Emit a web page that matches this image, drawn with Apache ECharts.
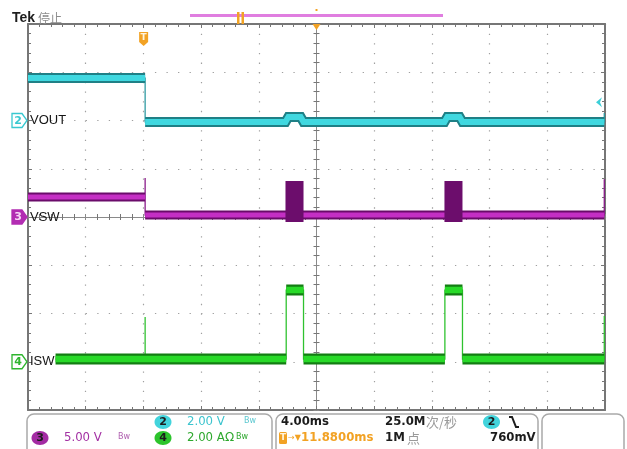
<!DOCTYPE html>
<html><head><meta charset="utf-8">
<script src="https://cdn.jsdelivr.net/npm/echarts@6/dist/echarts.min.js"></script>
<style>html,body{margin:0;padding:0;background:#fff}#c{width:627px;height:449px}</style>
</head><body><div id="c"></div>
<script>
// ---- time base (ms), 4 ms/div, 10 divisions ----
const timeRange = [-20, 20];
const timePerDiv = 4;
// ---- channel vertical ranges (8 divisions each, ref level at value 0) ----
const voutRange = [-12, 4];   // 2.00 V/div, ref 2 div below top
const vswRange = [-20, 20];   // 5.00 V/div, ref at centre
const iswRange = [-2, 14];    // 2.00 A/div, ref 1 div above bottom
// ---- VOUT (V) ----
const voutT = [-20, -11.88, -11.88, -2.15, -1.95, -1.1, -0.9, 8.87, 9.07, 9.92, 10.12, 19.95, 19.95];
const voutV = [1.76, 1.76, -0.06, -0.06, 0.15, 0.15, -0.06, -0.06, 0.15, 0.15, -0.06, -0.06, 0.31];
// ---- VSW (V) ----
const vswT = [-20, -11.88, -11.88, -11.88, 19.95, 19.95];
const vswV = [2.07, 2.07, 4.04, 0.2, 0.2, 3.9];
const vswPulseStart = [-2.15, 8.87];
const vswPulseEnd = [-0.9, 10.12];
const vswPulseHigh = 3.73;
const vswPulseLow = -0.52;
// ---- ISW (A) ----
const iswT = [-18.09, -11.88, -11.88, -11.88, -2.1, -2.1, -0.9, -0.9, 8.9, 8.9, 10.12, 10.12, 19.95, 19.95];
const iswV = [0.11, 0.11, 1.85, 0.11, 0.11, 2.97, 2.97, 0.11, 0.11, 2.97, 2.97, 0.11, 0.11, 1.9];
// ---- trigger ----
const triggerTime = -11.88;
const triggerLevel = 0.76;

function path(t, v) { return t.map((x, i) => [x, v[i]]); }
function band(t, v) {
  const out = [];
  for (let i = 0; i < t.length; i++) {
    out.push([t[i], v[i]]);
    if (i < t.length - 1 && t[i + 1] === t[i]) out.push([t[i], '-']);
  }
  return out;
}

const chart = echarts.init(document.getElementById('c'), null, {renderer: 'canvas'});
const frame = '#767676';
const dotC = '#a0a0a0';
function xAx(pos, offset, opts) {
  return Object.assign({
    type: 'value', min: timeRange[0], max: timeRange[1], interval: timePerDiv,
    position: pos, offset: offset,
    axisLine: {show: true, onZero: false, lineStyle: {color: frame, width: 2}},
    axisTick: {show: true, inside: true, length: 4, lineStyle: {color: frame, width: 1}},
    minorTick: {show: true, splitNumber: 5, length: 3, lineStyle: {color: frame, width: 1}},
    axisLabel: {show: false}, splitLine: {show: false}
  }, opts || {});
}
function yAx(pos, offset, opts) {
  return Object.assign({
    type: 'value', min: -4, max: 4, interval: 1,
    position: pos, offset: offset,
    axisLine: {show: true, onZero: false, lineStyle: {color: frame, width: 2}},
    axisTick: {show: true, inside: true, length: 4, lineStyle: {color: frame, width: 1}},
    minorTick: {show: true, splitNumber: 5, length: 3, lineStyle: {color: frame, width: 1}},
    axisLabel: {show: false}, splitLine: {show: false}
  }, opts || {});
}
const halfH = 193, halfW = 288.5;
const thinCenter = {show: true, onZero: false, lineStyle: {color: '#8a8a8a', width: 1}};

function lineS(name, yi, data, color, width, z) {
  return {name, type: 'line', xAxisIndex: 0, yAxisIndex: yi, data, symbol: 'none',
    silent: true, animation: false, z: z, connectNulls: false,
    lineStyle: {color, width, cap: 'butt', join: 'miter'}};
}

const option = {
  animation: false,
  backgroundColor: '#fff',
  grid: {left: 28, right: 22, top: 24, bottom: 39, containLabel: false},
  xAxis: [
    xAx('bottom', 0, {splitLine: {show: true, lineStyle: {color: dotC, width: 1.2, type: [1.3, 8.35]}}}),
    xAx('top', 0),
    xAx('top', -halfH, {axisLine: thinCenter, axisTick: {show: true, inside: true, length: 3, lineStyle: {color: '#8a8a8a'}}}),
    xAx('bottom', -halfH, {axisLine: thinCenter, axisTick: {show: true, inside: true, length: 3, lineStyle: {color: '#8a8a8a'}}})
  ],
  yAxis: [
    yAx('left', 0, {splitLine: {show: true, lineStyle: {color: dotC, width: 1.2, type: [1.3, 10.24]}}}),
    yAx('right', 0),
    yAx('left', -halfW, {axisLine: thinCenter, axisTick: {show: true, inside: true, length: 3, lineStyle: {color: '#8a8a8a'}}}),
    yAx('right', -halfW, {axisLine: thinCenter, axisTick: {show: true, inside: true, length: 3, lineStyle: {color: '#8a8a8a'}}}),
    {type: 'value', show: false, min: voutRange[0], max: voutRange[1]},
    {type: 'value', show: false, min: vswRange[0], max: vswRange[1]},
    {type: 'value', show: false, min: iswRange[0], max: iswRange[1]}
  ],
  series: [
    lineS('VOUT edge', 4, path(voutT, voutV), '#2f9aa2', 1.3, 3),
    lineS('VOUT dark', 4, band(voutT, voutV), '#1f8086', 10, 3),
    lineS('VOUT', 4, band(voutT, voutV), '#40d8e0', 6, 3),
    lineS('VSW edge', 5, path(vswT, vswV), '#8a1a8a', 1.3, 4),
    lineS('VSW dark', 5, band(vswT, vswV), '#6a0c6a', 9, 4),
    lineS('VSW', 5, band(vswT, vswV), '#c42fc4', 5, 4),
    {
      name: 'VSW pulses', type: 'custom', xAxisIndex: 0, yAxisIndex: 5, z: 5, silent: true, animation: false,
      data: vswPulseStart.map((s, i) => [s, vswPulseEnd[i], vswPulseLow, vswPulseHigh]),
      encode: {x: [0, 1], y: [2, 3]},
      renderItem: function (params, api) {
        const p1 = api.coord([api.value(0), api.value(3)]);
        const p2 = api.coord([api.value(1), api.value(2)]);
        return {type: 'rect', shape: {x: p1[0], y: p1[1], width: p2[0] - p1[0], height: p2[1] - p1[1]},
          style: {fill: '#6c0d6c'}};
      }
    },
    lineS('ISW edge', 6, path(iswT, iswV), '#2fc22f', 1.3, 6),
    lineS('ISW dark', 6, band(iswT, iswV), '#137d13', 11, 6),
    lineS('ISW', 6, band(iswT, iswV), '#28da28', 6.5, 6)
  ]
};
chart.setOption(option);

const gx = v => chart.convertToPixel({xAxisIndex: 0}, v);
const gy = (i, v) => chart.convertToPixel({yAxisIndex: i}, v);
const g = [];
function txt(text, x, y, font, fill, align, extra) {
  g.push(Object.assign({type: 'text', z: 100, silent: true,
    style: {text, x, y, font, fill, textAlign: align || 'left', textVerticalAlign: 'middle'}}, extra || {}));
}
const orange = '#f2a224';
// header
txt('Tek', 12, 18, 'bold 14px "Liberation Sans"', '#1e1e1e');
txt('停止', 38, 18, '12px "Noto Sans CJK SC"', '#8c8c8c');
g.push({type: 'rect', z: 100, shape: {x: 190, y: 14, width: 253, height: 3}, style: {fill: '#e07ee0'}});
g.push({type: 'rect', z: 101, shape: {x: 237, y: 12, width: 2.5, height: 12}, style: {fill: orange}});
g.push({type: 'rect', z: 101, shape: {x: 241.5, y: 12, width: 2.5, height: 12}, style: {fill: orange}});
const x0 = gx(0);
g.push({type: 'rect', z: 101, shape: {x: x0 - 1, y: 9, width: 2, height: 2}, style: {fill: orange}});
g.push({type: 'polygon', z: 101, shape: {points: [[x0 - 4, 24], [x0 + 4, 24], [x0, 30]]}, style: {fill: orange}});
// trigger position marker
const xt = gx(triggerTime) - 1.5;
g.push({type: 'polygon', z: 101, shape: {points: [[xt - 4.5, 32], [xt + 4.5, 32], [xt + 4.5, 42], [xt, 46], [xt - 4.5, 42]]}, style: {fill: orange}});
txt('T', xt, 38, 'bold 9px "DejaVu Sans"', '#fff4dc', 'center', {z: 102});
// trigger level marker (ch2)
const yl = gy(4, triggerLevel);
g.push({type: 'polygon', z: 101, shape: {points: [[596, yl], [602, yl - 5], [600, yl], [602, yl + 5]]}, style: {fill: '#3ccfd8'}});
// channel markers + labels
function chMarker(num, y, color, filled, label) {
  g.push({type: 'polygon', z: 100, shape: {points: [[12, y - 7], [22, y - 7], [27, y], [22, y + 7], [12, y + 7]]},
    style: {fill: filled ? color : '#fff', stroke: color, lineWidth: 1.3}});
  txt(String(num), 18, y + 0.5, 'bold 11px "DejaVu Sans"', filled ? '#f6d6f6' : color, 'center', {z: 101});
  txt(label, 30, y, '13px "Liberation Sans"', '#151515', 'left', {z: 101});
}
chMarker(2, gy(4, 0), '#38c8d0', false, 'VOUT');
chMarker(3, gy(5, 0), '#b22db2', true, 'VSW');
chMarker(4, gy(6, 0), '#2fb52f', false, 'ISW');
// readout boxes
[[27, 245], [276, 262], [542, 82]].forEach(b => g.push({type: 'rect', z: 100,
  shape: {x: b[0], y: 414, width: b[1], height: 50, r: 7}, style: {fill: 'none', stroke: '#a9a9a9', lineWidth: 1.5}}));
const r1 = 422, r2 = 438;
function badge(num, cx, cy, color) {
  g.push({type: 'ellipse', z: 101, shape: {cx, cy, rx: 8.5, ry: 7}, style: {fill: color}});
  txt(String(num), cx, cy + 0.5, 'bold 11px "DejaVu Sans"', '#1c1c1c', 'center', {z: 102});
}
const fCond = '13px "DejaVu Sans Condensed"';
const fCondB = 'bold 13px "DejaVu Sans Condensed"';
badge(2, 163, r1, '#42d4dc');
txt('2.00 V', 187, r1, fCond, '#3cc4ce');
txt('Bw', 244, r1 - 1, '8px "DejaVu Sans"', '#5cc8d0');
badge(3, 40, r2, '#a32ba3');
txt('5.00 V', 64, r2, fCond, '#a331a3');
txt('Bw', 118, r2 - 1, '8px "DejaVu Sans"', '#b060b0');
badge(4, 163, r2, '#2cc42c');
txt('2.00 A', 187, r2, fCond, '#2ea82e');
txt('Ω', 225, r2, '12px "DejaVu Sans"', '#2ea82e');
txt('Bw', 236, r2 - 1, '8px "DejaVu Sans"', '#2ea82e');
txt('4.00ms', 281, r1, fCondB, '#1c1c1c');
txt('25.0M', 385, r1, fCondB, '#1c1c1c');
txt('次/秒', 426, r1, '13px "Noto Sans CJK SC"', '#9a9a9a');
badge(2, 491.5, r1, '#42d4dc');
g.push({type: 'polyline', z: 101, shape: {points: [[509, 417], [512, 417], [516, 427], [519, 427]]}, style: {stroke: '#1c1c1c', lineWidth: 2, fill: 'none'}});
g.push({type: 'rect', z: 101, shape: {x: 279, y: 432, width: 8, height: 12, r: 1.5}, style: {fill: orange}});
txt('T', 283, r2, 'bold 9px "DejaVu Sans"', '#fff4dc', 'center', {z: 102});
txt('→▼', 288, r2, '8px "DejaVu Sans"', orange);
txt('11.8800ms', 301, r2, fCondB, orange);
txt('1M', 385, r2, fCondB, '#1c1c1c');
txt('点', 407, r2, '13px "Noto Sans CJK SC"', '#9a9a9a');
txt('760mV', 490, r2, fCondB, '#1c1c1c');

chart.setOption({graphic: {elements: g}});
</script>
</body></html>
